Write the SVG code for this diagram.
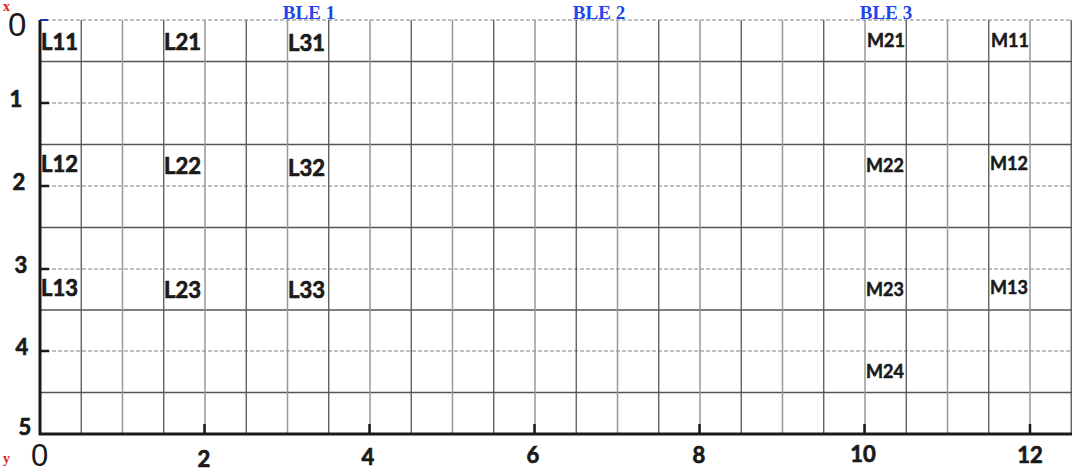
<svg xmlns="http://www.w3.org/2000/svg" width="1072" height="473" viewBox="0 0 1072 473">
<style>
.bg{fill:#ffffff}
.vd{stroke:#555;stroke-width:1.3}
.vl{stroke:#999;stroke-width:1.5}
.hs{stroke:#555;stroke-width:1.3}
.hd{stroke:#aaa;stroke-width:1.5;stroke-dasharray:4 2}
.axis{stroke:#1a1a1a;stroke-width:3;fill:none}
.tick{stroke:#1a1a1a;stroke-width:2.5}
.lab{font-family:Lato,"Liberation Sans",sans-serif;font-weight:700;font-size:22px;fill:#1a1a1a;stroke:#1a1a1a;stroke-width:0.7}
.mlab{font-family:Lato,"Liberation Sans",sans-serif;font-weight:700;font-size:18px;fill:#1a1a1a;stroke:#1a1a1a;stroke-width:0.5}
.num{font-family:Lato,"Liberation Sans",sans-serif;font-weight:700;font-size:22px;fill:#1a1a1a;text-anchor:middle;stroke:#1a1a1a;stroke-width:0.7}
.zero{font-family:"Liberation Sans",sans-serif;font-weight:400;font-size:33px;fill:#1a1a1a}
.zb{font-size:31px}
.ble{font-family:"Liberation Serif",serif;font-weight:700;font-size:19px;fill:#2244ee;text-anchor:middle}
.ax{font-family:"Liberation Serif",serif;font-weight:700;font-size:14px;fill:#e02020}
</style>
<rect class="bg" x="0" y="0" width="1072" height="473"/>
<g id="grid">
<g id="grid-dashed">
<line class="hd" x1="40" y1="20" x2="1072" y2="20"/>
<line class="hd" x1="40" y1="103" x2="1072" y2="103"/>
<line class="hd" x1="40" y1="186" x2="1072" y2="186"/>
<line class="hd" x1="40" y1="269" x2="1072" y2="269"/>
<line class="hd" x1="40" y1="351" x2="1072" y2="351"/>
</g>
<g id="grid-half">
<line class="hs" x1="40" y1="61.5" x2="1072" y2="61.5"/>
<line class="hs" x1="40" y1="144.5" x2="1072" y2="144.5"/>
<line class="hs" x1="40" y1="227.5" x2="1072" y2="227.5"/>
<line class="hs" x1="40" y1="310" x2="1072" y2="310"/>
<line class="hs" x1="40" y1="392.5" x2="1072" y2="392.5"/>
</g>
<g id="grid-vertical">
<line class="vd" x1="81.25" y1="20" x2="81.25" y2="434"/>
<line class="vl" x1="122.5" y1="20" x2="122.5" y2="434"/>
<line class="vd" x1="163.75" y1="20" x2="163.75" y2="434"/>
<line class="vl" x1="205" y1="20" x2="205" y2="434"/>
<line class="vd" x1="246.25" y1="20" x2="246.25" y2="434"/>
<line class="vl" x1="287.5" y1="20" x2="287.5" y2="434"/>
<line class="vd" x1="328.75" y1="20" x2="328.75" y2="434"/>
<line class="vl" x1="370" y1="20" x2="370" y2="434"/>
<line class="vd" x1="411.25" y1="20" x2="411.25" y2="434"/>
<line class="vl" x1="452.5" y1="20" x2="452.5" y2="434"/>
<line class="vd" x1="493.75" y1="20" x2="493.75" y2="434"/>
<line class="vl" x1="535" y1="20" x2="535" y2="434"/>
<line class="vd" x1="576.25" y1="20" x2="576.25" y2="434"/>
<line class="vl" x1="617.5" y1="20" x2="617.5" y2="434"/>
<line class="vd" x1="658.75" y1="20" x2="658.75" y2="434"/>
<line class="vl" x1="700" y1="20" x2="700" y2="434"/>
<line class="vd" x1="741.25" y1="20" x2="741.25" y2="434"/>
<line class="vl" x1="782.5" y1="20" x2="782.5" y2="434"/>
<line class="vd" x1="823.75" y1="20" x2="823.75" y2="434"/>
<line class="vl" x1="865" y1="20" x2="865" y2="434"/>
<line class="vd" x1="906.25" y1="20" x2="906.25" y2="434"/>
<line class="vl" x1="947.5" y1="20" x2="947.5" y2="434"/>
<line class="vd" x1="988.75" y1="20" x2="988.75" y2="434"/>
<line class="vl" x1="1030" y1="20" x2="1030" y2="434"/>
<line class="vd" x1="1071.25" y1="20" x2="1071.25" y2="434"/>
</g>
</g>
<g id="axes">
<path class="axis" d="M40,20 V434 H1072"/>
<line class="tick" x1="40" y1="103" x2="49" y2="103"/>
<line class="tick" x1="40" y1="186" x2="49" y2="186"/>
<line class="tick" x1="40" y1="269" x2="49" y2="269"/>
<line class="tick" x1="40" y1="351" x2="49" y2="351"/>
<line x1="40" y1="20" x2="48" y2="20" stroke="#2233aa" stroke-width="2"/>
<line class="tick" x1="204.5" y1="424" x2="204.5" y2="434"/>
<line class="tick" x1="369.5" y1="424" x2="369.5" y2="434"/>
<line class="tick" x1="534.5" y1="424" x2="534.5" y2="434"/>
<line class="tick" x1="699.5" y1="424" x2="699.5" y2="434"/>
<line class="tick" x1="864.5" y1="424" x2="864.5" y2="434"/>
<line class="tick" x1="1030" y1="424" x2="1030" y2="434"/>
<text class="ax" x="3" y="11">x</text>
<text class="ax" x="3" y="463">y</text>
<text class="zero" x="8" y="36">0</text>
<text class="zero zb" x="31" y="466">0</text>
<text class="num" x="16" y="107">1</text>
<text class="num" x="19" y="190">2</text>
<text class="num" x="21" y="273">3</text>
<text class="num" x="22" y="355">4</text>
<text class="num" x="25" y="435">5</text>
<text class="num" x="204" y="467">2</text>
<text class="num" x="368" y="465">4</text>
<text class="num" x="533" y="463">6</text>
<text class="num" x="699" y="463">8</text>
<text class="num" x="863" y="462">10</text>
<text class="num" x="1030" y="463">12</text>
</g>
<g id="ble1"><text class="ble" x="309" y="19">BLE 1</text></g>
<g id="ble2"><text class="ble" x="599" y="19">BLE 2</text></g>
<g id="ble3"><text class="ble" x="886" y="19">BLE 3</text></g>
<g id="L11"><text class="lab" x="41" y="50">L11</text></g>
<g id="L21"><text class="lab" x="164" y="50">L21</text></g>
<g id="L31"><text class="lab" x="288" y="51">L31</text></g>
<g id="L12"><text class="lab" x="41" y="172">L12</text></g>
<g id="L22"><text class="lab" x="164" y="174">L22</text></g>
<g id="L32"><text class="lab" x="288" y="176">L32</text></g>
<g id="L13"><text class="lab" x="41" y="296">L13</text></g>
<g id="L23"><text class="lab" x="164" y="298">L23</text></g>
<g id="L33"><text class="lab" x="288" y="298">L33</text></g>
<g id="M21"><text class="mlab" x="867" y="47">M21</text></g>
<g id="M11"><text class="mlab" x="991" y="47">M11</text></g>
<g id="M22"><text class="mlab" x="866" y="172">M22</text></g>
<g id="M12"><text class="mlab" x="990" y="170">M12</text></g>
<g id="M23"><text class="mlab" x="866" y="296">M23</text></g>
<g id="M13"><text class="mlab" x="990" y="294">M13</text></g>
<g id="M24"><text class="mlab" x="866" y="378">M24</text></g>
</svg>
